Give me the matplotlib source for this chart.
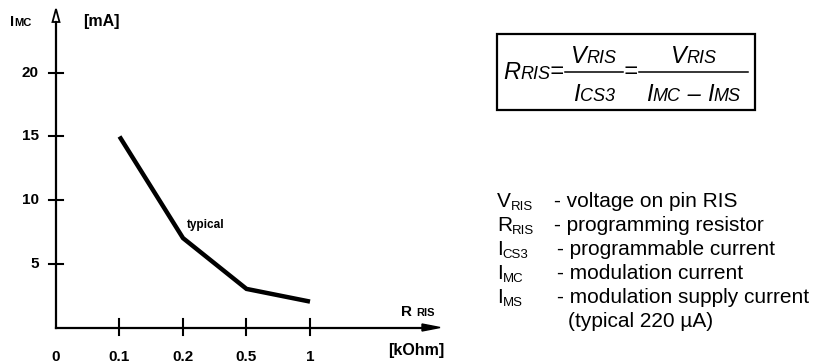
import matplotlib
matplotlib.use("Agg")
import matplotlib.pyplot as plt
from matplotlib.patches import Rectangle, Polygon
from matplotlib.lines import Line2D

plt.rcParams['font.family'] = ['Liberation Sans', 'DejaVu Sans']

# Data
x_labels = ['0', '0.1', '0.2', '0.5', '1']
curve_x = ['0.1', '0.2', '0.5', '1']
curve_y = [15, 7, 3, 2]
y_ticks = [5, 10, 15, 20]

legend_main = ['V', 'R', 'I', 'I', 'I', '']
legend_sub = ['RIS', 'RIS', 'CS3', 'MC', 'MS', '']
legend_desc = ['- voltage on pin RIS', '- programming resistor', '- programmable current',
               '- modulation current', '- modulation supply current', '(typical 220 µA)']

W, H = 820, 364
fig = plt.figure(figsize=(W / 100, H / 100), dpi=100)
renderer = fig.canvas.get_renderer()


def fx(x):
    return x / W


def fy(y):
    return 1 - y / H


def ptext(x, y, s, **kw):
    kw.setdefault('ha', 'left')
    kw.setdefault('va', 'baseline')
    return fig.text(fx(x), fy(y), s, **kw)


def subsym(x, y, main, sub, size, subsize, dy=0.0, gap=0.0, **kw):
    t = ptext(x, y, main, fontsize=size, **kw)
    x1 = t.get_window_extent(renderer).x1 if main else x
    t2 = ptext(x1 + gap, y + dy, sub, fontsize=subsize, **kw)
    return t2.get_window_extent(renderer).x1 if sub else x1


def composite(xc, y, parts, **kw):
    """parts: list of (string, size); laid out left to right, centred on xc."""
    texts = [ptext(0, y, s, fontsize=sz, **kw) for s, sz in parts]
    widths = [t.get_window_extent(renderer).width for t in texts]
    x = xc - sum(widths) / 2
    for t, w in zip(texts, widths):
        t.set_x(fx(x))
        x += w


# axes: x index 0 -> px 56, step 63.5 px ; y 0 -> px 327, 5 units = 63.5 px
step = 63.5
x0, y0 = 56, 327
xmax, ymax = 6.0, 25.0
ax = fig.add_axes([fx(x0), 1 - y0 / H, xmax * step / W, ymax * step / 5 / H])
ax.set_xlim(0, xmax)
ax.set_ylim(0, ymax)
for s in ['top', 'right', 'left', 'bottom']:
    ax.spines[s].set_visible(False)
ax.set_xticks([])
ax.set_yticks([])
ax.patch.set_alpha(0)

# axis lines and arrowheads (pixel space)
fig.lines.append(Line2D([fx(56), fx(424)], [fy(327.5), fy(327.5)], color='black', lw=1.6,
                        transform=fig.transFigure))
fig.lines.append(Line2D([fx(56), fx(56)], [fy(327.5), fy(22)], color='black', lw=1.6,
                        transform=fig.transFigure))
fig.patches.append(Polygon([(fx(440), fy(327.5)), (fx(422), fy(324)), (fx(422), fy(331))],
                           closed=True, facecolor='black', edgecolor='black', lw=1,
                           transform=fig.transFigure))
fig.patches.append(Polygon([(fx(56), fy(9)), (fx(52.5), fy(22)), (fx(59.5), fy(22))],
                           closed=True, facecolor='white', edgecolor='black', lw=1.3,
                           transform=fig.transFigure))

# ticks (crossing marks)
xpos = {lab: i for i, lab in enumerate(x_labels)}
tk = 8 / (step / 5)
tkx = 7 / step
for lab, i in xpos.items():
    if i > 0:
        ax.plot([i, i], [-tk, tk], color='black', lw=1.5, clip_on=False)
    ax.text(i, -30 / (step / 5), lab, ha='center', va='center',
            fontsize=11, fontweight='bold')
for v in y_ticks:
    ax.plot([-tkx, tkx], [v, v], color='black', lw=1.5, clip_on=False)
    ax.text(-17 / step, v, str(v), ha='right', va='center', fontsize=11, fontweight='bold')

# curve
ax.plot([xpos[c] for c in curve_x], curve_y, color='black', lw=3.2, solid_joinstyle='miter',
        solid_capstyle='butt', clip_on=False)
ptext(187, 228, 'typical', fontsize=8.5, fontweight='bold')

# axis labels
subsym(10, 26, 'I', 'MC', 10.5, 8, fontweight='bold', gap=0.5)
ptext(83, 26, '[mA]', fontsize=11.5, fontweight='bold')
ptext(401, 316, 'R', fontsize=11, fontweight='bold')
ptext(416, 316, 'RIS', fontsize=8, fontweight='bold')
ptext(388, 355, '[kOhm]', fontsize=11.5, fontweight='bold')

# formula box
fig.patches.append(Rectangle((fx(497), fy(110)), fx(755) - fx(497), fy(34) - fy(110),
                             transform=fig.transFigure, fill=False, lw=1.6, color='black'))
it = dict(style='italic')
FS, SS = 17, 13
xe = subsym(503, 79, 'R', 'RIS', FS, SS, **it)
xe = ptext(xe, 78, '=', fontsize=FS, **it).get_window_extent(renderer).x1
bar1 = (xe + 1, 623)
fig.lines.append(Line2D([fx(bar1[0]), fx(bar1[1])], [fy(72), fy(72)], color='black', lw=1.1,
                        transform=fig.transFigure))
c1 = (bar1[0] + bar1[1]) / 2
composite(c1, 63, [('V', FS), ('RIS', SS)], **it)
composite(c1, 101, [('I', FS), ('CS3', SS)], **it)
xe = ptext(624, 78, '=', fontsize=FS, **it).get_window_extent(renderer).x1
bar2 = (xe + 1, 748)
fig.lines.append(Line2D([fx(bar2[0]), fx(bar2[1])], [fy(72), fy(72)], color='black', lw=1.1,
                        transform=fig.transFigure))
c2 = (bar2[0] + bar2[1]) / 2
composite(c2, 63, [('V', FS), ('RIS', SS)], **it)
composite(c2, 101, [('I', FS), ('MC', SS), (' – ', FS), ('I', FS), ('MS', SS)], **it)

# legend list
LS, LSS = 15, 9.5
baselines = [207, 231, 255, 279, 303, 327]
dash_x = [554, 554, 557, 557, 557, 568]
for yy, m, sb, desc, dx in zip(baselines, legend_main, legend_sub, legend_desc, dash_x):
    if m:
        subsym(497, yy, m, sb, LS, LSS, dy=3)
    ptext(dx, yy, desc, fontsize=LS)

fig.savefig('out.png', dpi=100)
